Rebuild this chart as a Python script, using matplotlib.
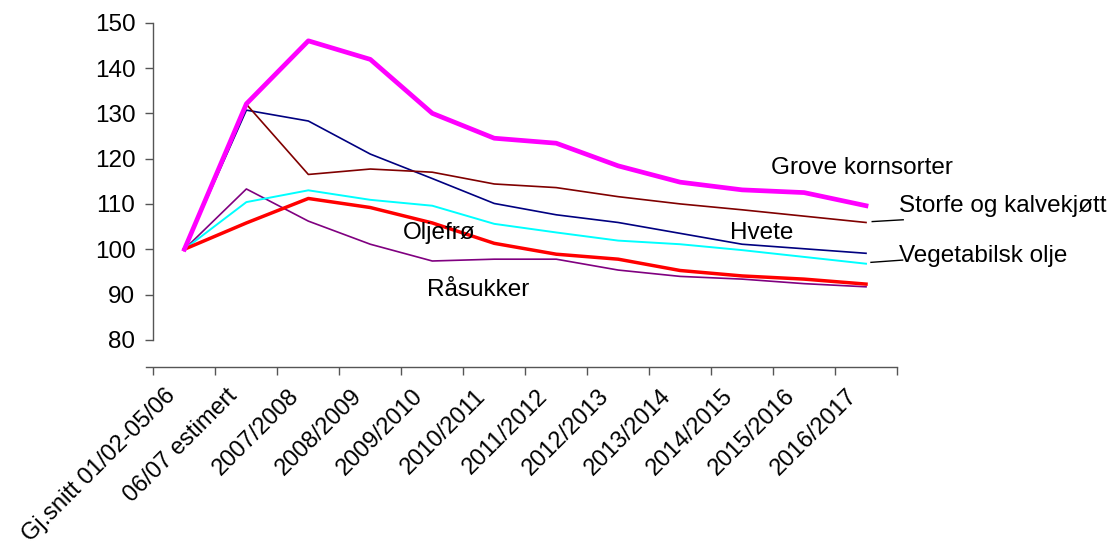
import matplotlib
matplotlib.use("Agg")
import matplotlib.pyplot as plt
import matplotlib.transforms as mtransforms
import numpy as np

plt.rcParams["font.family"] = ["Liberation Sans", "DejaVu Sans"]

periods = [
    "Gj.snitt 01/02-05/06", "06/07 estimert", "2007/2008", "2008/2009",
    "2009/2010", "2010/2011", "2011/2012", "2012/2013", "2013/2014",
    "2014/2015", "2015/2016", "2016/2017",
]

grove_kornsorter = [100, 132.1, 146.0, 141.9, 130.0, 124.5, 123.4, 118.4, 114.8, 113.1, 112.5, 109.6]
storfe_kalv = [100, 132.0, 116.5, 117.7, 117.0, 114.4, 113.6, 111.6, 110.0, 108.7, 107.3, 105.9]
hvete = [100, 130.7, 128.3, 121.0, 115.6, 110.1, 107.6, 105.9, 103.5, 101.1, 100.1, 99.1]
vegetabilsk_olje = [100, 110.4, 113.0, 110.9, 109.6, 105.6, 103.7, 101.9, 101.1, 99.8, 98.3, 96.8]
oljefro = [100, 105.8, 111.2, 109.2, 105.8, 101.3, 98.9, 97.8, 95.3, 94.1, 93.4, 92.3]
rasukker = [100, 113.3, 106.2, 101.1, 97.4, 97.8, 97.8, 95.4, 94.0, 93.4, 92.4, 91.7]

x = np.arange(len(periods)) + 0.5
FS = 17.5

fig = plt.figure(figsize=(11.11, 5.45), dpi=100)
ax = fig.add_axes([146 / 1111, (545 - 367) / 545, (897 - 146) / 1111, (367 - 22.7) / 545])

ax.plot(x, rasukker, color="#800080", lw=1.2)
ax.plot(x, vegetabilsk_olje, color="#00FFFF", lw=1.4)
ax.plot(x, oljefro, color="#FF0000", lw=2.5)
ax.plot(x, hvete, color="#000080", lw=1.2)
ax.plot(x, storfe_kalv, color="#800000", lw=1.2)
ax.plot(x, grove_kornsorter, color="#FF00FF", lw=3.4)

ax.set_xlim(-0.12, len(periods))
ax.set_ylim(74, 150)

# axis styling
for side in ("top", "right"):
    ax.spines[side].set_visible(False)
ax.spines["left"].set_position(("data", 0))
ax.spines["left"].set_bounds(80, 150)
ax.spines["bottom"].set_bounds(-0.12, len(periods))
for side in ("left", "bottom"):
    ax.spines[side].set_color("#555555")
    ax.spines[side].set_linewidth(1.0)

ax.set_yticks(np.arange(80, 151, 10))
ax.tick_params(axis="y", direction="out", length=6, width=1, color="#555555",
               labelsize=FS, pad=7)

ax.set_xticks(np.arange(0, len(periods) + 1))
ax.set_xticklabels([])
ax.tick_params(axis="x", which="major", direction="out", length=6, width=1, color="#555555")

# rotated category labels, anchored left of and below each category centre
shift = mtransforms.ScaledTranslation(-20 / 100, -18 / 100, fig.dpi_scale_trans)
cat_tr = ax.get_xaxis_transform() + shift
for xi, name in zip(x, periods):
    ax.text(xi, 0, name, transform=cat_tr, rotation=45, ha="right", va="top",
            rotation_mode="anchor", fontsize=17, clip_on=False)

# series labels
lab = dict(fontsize=FS, ha="left", va="center")
ax.text(9.97, 117.9, "Grove kornsorter", **lab)
ax.text(12.04, 109.6, "Storfe og kalvekjøtt", **lab)
ax.text(9.31, 103.5, "Hvete", **lab)
ax.text(12.04, 98.4, "Vegetabilsk olje", **lab)
ax.text(4.03, 103.5, "Oljefrø", **lab)
ax.text(4.42, 90.9, "Råsukker", **lab)
ax.plot([11.6, 12.1], [106.1, 106.5], color="black", lw=1, clip_on=False)
ax.plot([11.58, 12.09], [97.1, 97.6], color="black", lw=1, clip_on=False)

fig.savefig("out.png", dpi=100)
